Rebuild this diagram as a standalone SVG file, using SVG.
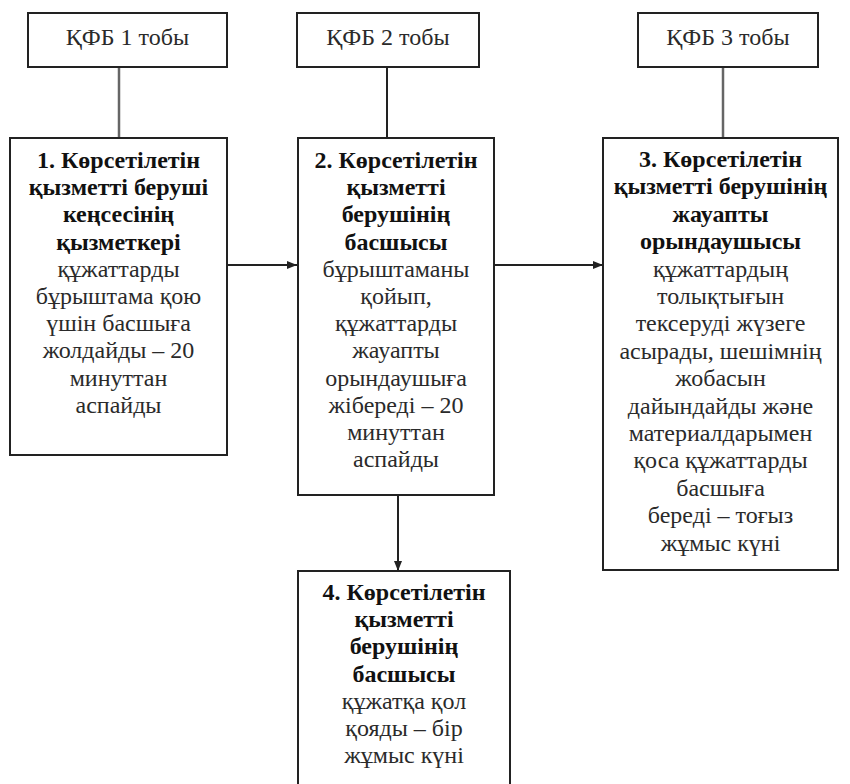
<svg xmlns="http://www.w3.org/2000/svg" width="850" height="784" viewBox="0 0 850 784">
<style>
.box{fill:#fff;stroke:#222;stroke-width:2}
.t{font-family:'Liberation Serif','Times New Roman',serif;font-size:24px;fill:#2a2a2a;text-anchor:middle}
.b{font-weight:bold;fill:#111}
.ln{stroke:#222;stroke-width:2;fill:none}
.gl{stroke:#666;stroke-width:2.5;fill:none}
</style>
<defs>
<marker id="arr" viewBox="0 0 10 10" refX="10" refY="5" markerWidth="10" markerHeight="10" orient="auto" markerUnits="userSpaceOnUse">
<path d="M0,1 L10,5 L0,9 z" fill="#222"/>
</marker>
</defs>
<rect width="850" height="784" fill="#fff"/>
<g id="connectors">
<line class="gl" x1="119" y1="67" x2="119" y2="138"/>
<line class="ln" x1="387" y1="67" x2="387" y2="138"/>
<line class="gl" x1="723" y1="67" x2="723" y2="138"/>
<line class="ln" x1="227" y1="265" x2="297" y2="265" marker-end="url(#arr)"/>
<line class="ln" x1="494" y1="265" x2="603" y2="265" marker-end="url(#arr)"/>
<line class="ln" x1="398" y1="495" x2="398" y2="571" marker-end="url(#arr)"/>
</g>
<g id="g1">
<rect class="box" x="28" y="13" width="199" height="54"/>
<text class="t" x="127.5" y="45">ҚФБ 1 тобы</text>
</g>
<g id="g2">
<rect class="box" x="297" y="13" width="182" height="54"/>
<text class="t" x="388" y="45">ҚФБ 2 тобы</text>
</g>
<g id="g3">
<rect class="box" x="638" y="13" width="180" height="54"/>
<text class="t" x="728" y="45">ҚФБ 3 тобы</text>
</g>
<g id="n1">
<rect class="box" x="10" y="138" width="217" height="317"/>
<text class="t" x="118.5" y="168"><tspan class="b" x="118.5">1. Көрсетілетін</tspan><tspan class="b" x="118.5" dy="27.2">қызметті беруші</tspan><tspan class="b" x="118.5" dy="27.2">кеңсесінің</tspan><tspan class="b" x="118.5" dy="27.2">қызметкері</tspan><tspan x="118.5" dy="27.2">құжаттарды</tspan><tspan x="118.5" dy="27.2">бұрыштама қою</tspan><tspan x="118.5" dy="27.2">үшін басшыға</tspan><tspan x="118.5" dy="27.2">жолдайды – 20</tspan><tspan x="118.5" dy="27.2">минуттан</tspan><tspan x="118.5" dy="27.2">аспайды</tspan></text>
</g>
<g id="n2">
<rect class="box" x="298" y="138" width="196" height="357"/>
<text class="t" x="396" y="168"><tspan class="b" x="396">2. Көрсетілетін</tspan><tspan class="b" x="396" dy="27.2">қызметті</tspan><tspan class="b" x="396" dy="27.2">берушінің</tspan><tspan class="b" x="396" dy="27.2">басшысы</tspan><tspan x="396" dy="27.2">бұрыштаманы</tspan><tspan x="396" dy="27.2">қойып,</tspan><tspan x="396" dy="27.2">құжаттарды</tspan><tspan x="396" dy="27.2">жауапты</tspan><tspan x="396" dy="27.2">орындаушыға</tspan><tspan x="396" dy="27.2">жібереді  – 20</tspan><tspan x="396" dy="27.2">минуттан</tspan><tspan x="396" dy="27.2">аспайды</tspan></text>
</g>
<g id="n3">
<rect class="box" x="603" y="138" width="235" height="432"/>
<text class="t" x="720.5" y="167"><tspan class="b" x="720.5">3. Көрсетілетін</tspan><tspan class="b" x="720.5" dy="27.4">қызметті берушінің</tspan><tspan class="b" x="720.5" dy="27.4">жауапты</tspan><tspan class="b" x="720.5" dy="27.4">орындаушысы</tspan><tspan x="720.5" dy="27.4">құжаттардың</tspan><tspan x="720.5" dy="27.4">толықтығын</tspan><tspan x="720.5" dy="27.4">тексеруді жүзеге</tspan><tspan x="720.5" dy="27.4">асырады, шешімнің</tspan><tspan x="720.5" dy="27.4">жобасын</tspan><tspan x="720.5" dy="27.4">дайындайды  және</tspan><tspan x="720.5" dy="27.4">материалдарымен</tspan><tspan x="720.5" dy="27.4">қоса құжаттарды</tspan><tspan x="720.5" dy="27.4">басшыға</tspan><tspan x="720.5" dy="27.4">береді – тоғыз</tspan><tspan x="720.5" dy="27.4">жұмыс күні</tspan></text>
</g>
<g id="n4">
<rect class="box" x="298" y="571" width="212" height="222"/>
<text class="t" x="404" y="600"><tspan class="b" x="404">4. Көрсетілетін</tspan><tspan class="b" x="404" dy="27.2">қызметті</tspan><tspan class="b" x="404" dy="27.2">берушінің</tspan><tspan class="b" x="404" dy="27.2">басшысы</tspan><tspan x="404" dy="27.2">құжатқа қол</tspan><tspan x="404" dy="27.2">қояды – бір</tspan><tspan x="404" dy="27.2">жұмыс күні</tspan></text>
</g>
</svg>
